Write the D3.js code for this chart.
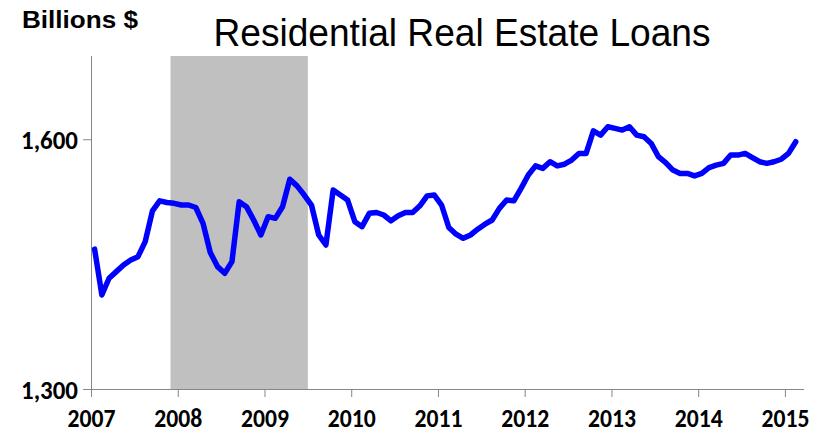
<!DOCTYPE html>
<html>
<head>
<meta charset="utf-8">
<script src="https://cdn.jsdelivr.net/npm/d3@7"></script>
<style>
  html, body { margin: 0; padding: 0; background: #fff; }
  svg { display: block; }
</style>
</head>
<body>
<svg id="chart" width="819" height="437"></svg>
<script>
// Monthly residential real estate loans, billions $
const startYear = 2007;
const loans2007 = [1468, 1413, 1433, 1441, 1449, 1455, 1459, 1477, 1514, 1526, 1524, 1523];
const loans2008 = [1521, 1521, 1518, 1499, 1464, 1447, 1439, 1453, 1525, 1519, 1503, 1485];
const loans2009 = [1507, 1505, 1519, 1552, 1544, 1533, 1521, 1485, 1473, 1539, 1533, 1527];
const loans2010 = [1501, 1495, 1511, 1512, 1509, 1502, 1508, 1512, 1512, 1520, 1532, 1533];
const loans2011 = [1521, 1494, 1486, 1481, 1485, 1492, 1498, 1503, 1517, 1527, 1526, 1541];
const loans2012 = [1557, 1568, 1565, 1573, 1568, 1570, 1575, 1583, 1583, 1610, 1605, 1615];
const loans2013 = [1613, 1611, 1615, 1605, 1603, 1595, 1579, 1572, 1563, 1559, 1559, 1556];
const loans2014 = [1559, 1566, 1569, 1571, 1581, 1581, 1583, 1578, 1573, 1571, 1573, 1576];
const loans2015 = [1583, 1597];

const yearTicks = [2007, 2008, 2009, 2010, 2011, 2012, 2013, 2014, 2015];
const yTicks = [1300, 1600];
const recession = [2007 + 11 / 12, 2009.5];  // Dec 2007 - Jun 2009

const titleText = "Residential Real Estate Loans";
const unitText = "Billions $";

const allValues = [].concat(loans2007, loans2008, loans2009, loans2010, loans2011,
                            loans2012, loans2013, loans2014, loans2015);
const data = allValues.map((v, i) => ({ t: startYear + (i + 0.5) / 12, v }));

const svg = d3.select("#chart");

const x = d3.scaleLinear().domain([2007, 2015.22]).range([91, 804]);
const y = d3.scaleLinear().domain([1300, 1700]).range([389, 56]);

// recession shading
svg.append("rect")
  .attr("x", x(recession[0]))
  .attr("y", y(1700))
  .attr("width", x(recession[1]) - x(recession[0]))
  .attr("height", y(1300) - y(1700))
  .attr("fill", "#c0c0c0");

// x axis
const xAxis = d3.axisBottom(x).tickValues(yearTicks).tickSize(8).tickFormat(d3.format("d"));
const gx = svg.append("g").attr("transform", `translate(0,${y(1300)})`).call(xAxis);
gx.select(".domain").attr("stroke", "#868686").attr("d", `M${x.range()[0]},0.5H${x.range()[1]}`);
gx.selectAll(".tick line").attr("stroke", "#868686");
gx.selectAll(".tick text")
  .attr("y", 38)
  .attr("dy", 0)
  .attr("font-family", "Carlito, Lato, sans-serif")
  .attr("font-weight", "bold")
  .attr("font-size", 26)
  .attr("fill", "#000")
  .attr("textLength", 48)
  .attr("lengthAdjust", "spacingAndGlyphs");

// y axis
const yAxis = d3.axisLeft(y).tickValues(yTicks).tickSize(8).tickFormat(d3.format(","));
const gy = svg.append("g").attr("transform", `translate(${x(2007)},0)`).call(yAxis);
gy.select(".domain").attr("stroke", "#868686").attr("d", `M0.5,${y.range()[1]}V${y.range()[0]}`);
gy.selectAll(".tick line").attr("stroke", "#868686");
gy.selectAll(".tick text")
  .attr("x", -13)
  .attr("dy", "0.36em")
  .attr("font-family", "Carlito, Lato, sans-serif")
  .attr("font-weight", "bold")
  .attr("font-size", 26)
  .attr("fill", "#000")
  .attr("textLength", 57)
  .attr("lengthAdjust", "spacingAndGlyphs");

// line
const line = d3.line().x(d => x(d.t)).y(d => y(d.v));
svg.append("path")
  .datum(data)
  .attr("d", line)
  .attr("fill", "none")
  .attr("stroke", "#0000ff")
  .attr("stroke-width", 5.5)
  .attr("stroke-linejoin", "round")
  .attr("stroke-linecap", "round");

// title and unit label
svg.append("text")
  .attr("x", 462).attr("y", 46)
  .attr("text-anchor", "middle")
  .attr("font-family", "Liberation Sans, Arial, sans-serif")
  .attr("font-size", 38)
  .attr("fill", "#000")
  .attr("textLength", 497)
  .attr("lengthAdjust", "spacingAndGlyphs")
  .text(titleText);

svg.append("text")
  .attr("x", 22).attr("y", 28)
  .attr("font-family", "Liberation Sans, Arial, sans-serif")
  .attr("font-weight", "bold")
  .attr("font-size", 23)
  .attr("fill", "#000")
  .attr("textLength", 116)
  .attr("lengthAdjust", "spacingAndGlyphs")
  .text(unitText);
</script>
</body>
</html>
